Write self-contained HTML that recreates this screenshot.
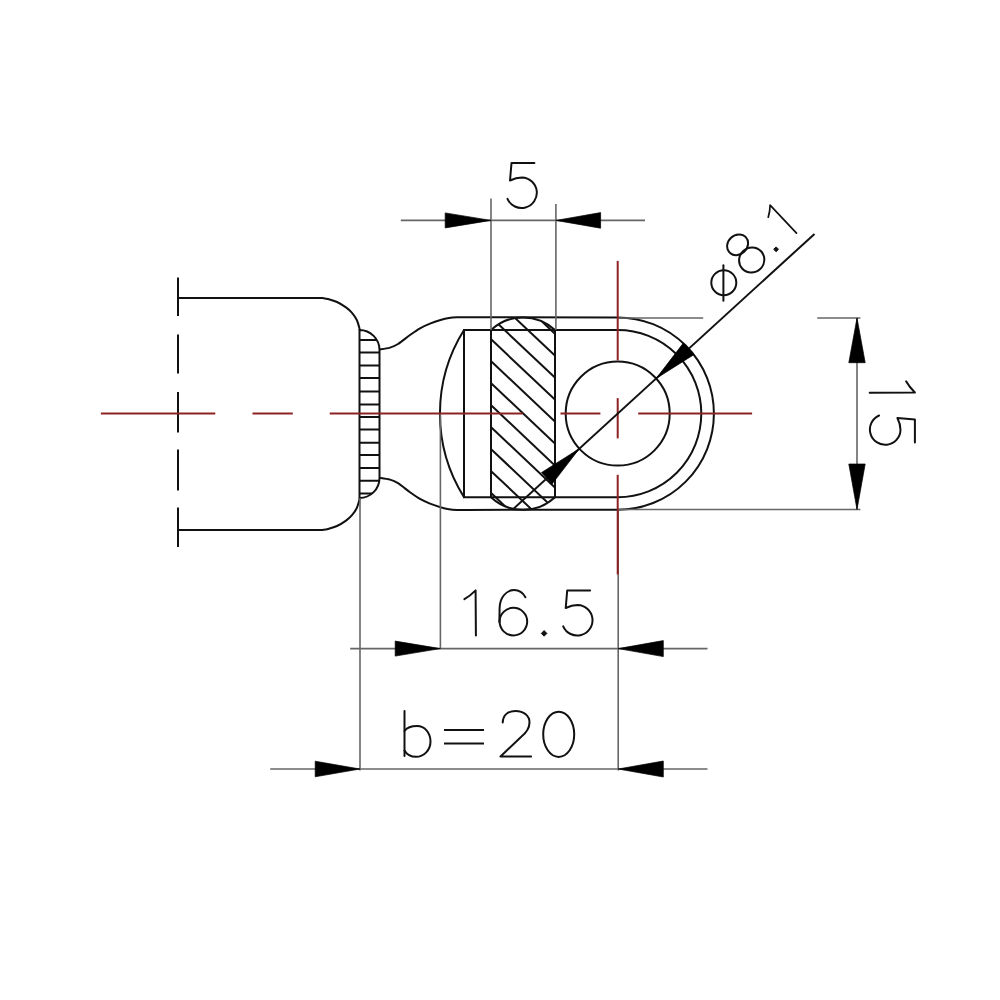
<!DOCTYPE html>
<html><head><meta charset="utf-8"><style>
html,body{margin:0;padding:0;background:#fff;width:1000px;height:1000px;overflow:hidden;font-family:"Liberation Sans",sans-serif;}
svg{display:block;}
</style></head><body><svg width="1000" height="1000" viewBox="0 0 1000 1000"><line x1="178" y1="277.5" x2="178" y2="316" stroke="#111" stroke-width="2"/><line x1="178" y1="334.5" x2="178" y2="373.5" stroke="#111" stroke-width="2"/><line x1="178" y1="392" x2="178" y2="432.6" stroke="#111" stroke-width="2"/><line x1="178" y1="449.5" x2="178" y2="490.5" stroke="#111" stroke-width="2"/><line x1="178" y1="507.4" x2="178" y2="547" stroke="#111" stroke-width="2"/><path d="M178,298 L322.6,298 C323.5,298.17 325.6,298.33 328,299 C330.4,299.67 334,300.6 337,302 C340,303.4 343.5,305.6 346,307.4 C348.5,309.2 350.2,310.7 352,312.8 C353.8,314.9 355.55,317.4 356.8,320 C358.05,322.6 359.05,326.73 359.5,328.4 C359.95,330.07 359.5,329.73 359.5,330" fill="none" stroke="#111" stroke-width="2"/><path d="M178,530 L322.6,530 C323.5,529.83 325.6,529.67 328,529 C330.4,528.33 334,527.4 337,526 C340,524.6 343.5,522.4 346,520.6 C348.5,518.8 350.2,517.3 352,515.2 C353.8,513.1 355.55,510.6 356.8,508 C358.05,505.4 359.05,501.27 359.5,499.6 C359.95,497.93 359.5,498.27 359.5,498" fill="none" stroke="#111" stroke-width="2"/><path d="M359.5,330 A20,20 0 0 1 379.5,350 L379.5,478 A20,20 0 0 1 359.5,498 Z" fill="none" stroke="#111" stroke-width="2"/><clipPath id="kn"><path d="M359.5,330 A20,20 0 0 1 379.5,350 L379.5,478 A20,20 0 0 1 359.5,498 Z"/></clipPath><g clip-path="url(#kn)"><line x1="358" y1="340" x2="381" y2="340" stroke="#111" stroke-width="2"/><line x1="358" y1="352.5" x2="381" y2="352.5" stroke="#111" stroke-width="2"/><line x1="358" y1="365.5" x2="381" y2="365.5" stroke="#111" stroke-width="2"/><line x1="358" y1="378" x2="381" y2="378" stroke="#111" stroke-width="2"/><line x1="358" y1="391.6" x2="381" y2="391.6" stroke="#111" stroke-width="2"/><line x1="358" y1="404.5" x2="381" y2="404.5" stroke="#111" stroke-width="2"/><line x1="358" y1="417.1" x2="381" y2="417.1" stroke="#111" stroke-width="2"/><line x1="358" y1="429.4" x2="381" y2="429.4" stroke="#111" stroke-width="2"/><line x1="358" y1="442.7" x2="381" y2="442.7" stroke="#111" stroke-width="2"/><line x1="358" y1="455" x2="381" y2="455" stroke="#111" stroke-width="2"/><line x1="358" y1="468" x2="381" y2="468" stroke="#111" stroke-width="2"/><line x1="358" y1="480.8" x2="381" y2="480.8" stroke="#111" stroke-width="2"/><line x1="358" y1="493.5" x2="381" y2="493.5" stroke="#111" stroke-width="2"/></g><path d="M379.5,349.5 C382.83,349.02 386.92,348.52 390,347.6 C393.08,346.68 394.67,346.1 398,344 C401.33,341.9 406.33,337.62 410,335 C413.67,332.38 416.67,330.2 420,328.3 C423.33,326.4 426.58,324.98 430,323.6 C433.42,322.22 437.33,320.93 440.5,320 C443.67,319.07 446.25,318.45 449,318 C451.75,317.55 454.17,317.42 457,317.3 C459.83,317.18 462.83,317.3 466,317.3 L617.7,317.4" fill="none" stroke="#111" stroke-width="2"/><path d="M379.5,477.7 C382.83,478.18 386.92,478.68 390,479.6 C393.08,480.52 394.67,481.1 398,483.2 C401.33,485.3 406.33,489.58 410,492.2 C413.67,494.82 416.67,497 420,498.9 C423.33,500.8 426.58,502.22 430,503.6 C433.42,504.98 437.33,506.27 440.5,507.2 C443.67,508.13 446.25,508.75 449,509.2 C451.75,509.65 454.17,509.78 457,509.9 C459.83,510.02 462.83,509.9 466,509.9 L617.7,509.8" fill="none" stroke="#111" stroke-width="2"/><path d="M617.7,317.4 A96.2,96.2 0 0 1 617.7,509.8" fill="none" stroke="#111" stroke-width="2"/><path d="M464,330 L617.7,330 A83.6,83.6 0 0 1 617.7,497.2 L464,497.2 Z" fill="none" stroke="#111" stroke-width="2"/><path d="M464,330 A157.3,157.3 0 0 0 464,497.2" fill="none" stroke="#111" stroke-width="2"/><circle cx="617.7" cy="413.6" r="52" fill="none" stroke="#111" stroke-width="2"/><clipPath id="pn"><path d="M491,330 A46.9,46.9 0 0 1 555,330 L555,497.2 A46.9,46.9 0 0 1 491,497.2 Z"/></clipPath><g clip-path="url(#pn)"><line x1="480" y1="153.04" x2="570" y2="238.09" stroke="#111" stroke-width="2"/><line x1="480" y1="175.01" x2="570" y2="260.06" stroke="#111" stroke-width="2"/><line x1="480" y1="196.98" x2="570" y2="282.03" stroke="#111" stroke-width="2"/><line x1="480" y1="218.95" x2="570" y2="304" stroke="#111" stroke-width="2"/><line x1="480" y1="240.92" x2="570" y2="325.98" stroke="#111" stroke-width="2"/><line x1="480" y1="262.89" x2="570" y2="347.94" stroke="#111" stroke-width="2"/><line x1="480" y1="284.87" x2="570" y2="369.91" stroke="#111" stroke-width="2"/><line x1="480" y1="306.84" x2="570" y2="391.88" stroke="#111" stroke-width="2"/><line x1="480" y1="328.81" x2="570" y2="413.86" stroke="#111" stroke-width="2"/><line x1="480" y1="350.77" x2="570" y2="435.82" stroke="#111" stroke-width="2"/><line x1="480" y1="372.75" x2="570" y2="457.79" stroke="#111" stroke-width="2"/><line x1="480" y1="394.72" x2="570" y2="479.76" stroke="#111" stroke-width="2"/><line x1="480" y1="416.69" x2="570" y2="501.74" stroke="#111" stroke-width="2"/><line x1="480" y1="438.65" x2="570" y2="523.7" stroke="#111" stroke-width="2"/><line x1="480" y1="460.62" x2="570" y2="545.67" stroke="#111" stroke-width="2"/><line x1="480" y1="482.6" x2="570" y2="567.64" stroke="#111" stroke-width="2"/><line x1="480" y1="504.57" x2="570" y2="589.62" stroke="#111" stroke-width="2"/><line x1="480" y1="526.53" x2="570" y2="611.58" stroke="#111" stroke-width="2"/><line x1="480" y1="548.5" x2="570" y2="633.55" stroke="#111" stroke-width="2"/><line x1="480" y1="570.48" x2="570" y2="655.52" stroke="#111" stroke-width="2"/></g><path d="M491,330 A46.9,46.9 0 0 1 555,330 L555,497.2 A46.9,46.9 0 0 1 491,497.2 Z" fill="none" stroke="#111" stroke-width="2"/><line x1="400.8" y1="220.4" x2="645" y2="220.4" stroke="#666" stroke-width="1.6"/><line x1="491" y1="198.4" x2="491" y2="330" stroke="#666" stroke-width="1.6"/><line x1="555.9" y1="204" x2="555.9" y2="330" stroke="#666" stroke-width="1.6"/><path d="M491,220.4 L445.2,212.9 L445.2,227.9 Z" fill="#000" stroke="#000" stroke-width="0.7" stroke-linejoin="round"/><path d="M555.9,220.4 L600.6,228.2 L600.6,212.6 Z" fill="#000" stroke="#000" stroke-width="0.7" stroke-linejoin="round"/><line x1="857" y1="317.8" x2="857" y2="509.5" stroke="#666" stroke-width="1.6"/><line x1="617.7" y1="318" x2="703.2" y2="318" stroke="#666" stroke-width="1.6"/><line x1="817.2" y1="318" x2="860.4" y2="318" stroke="#666" stroke-width="1.6"/><line x1="617.7" y1="509.5" x2="860.4" y2="509.5" stroke="#666" stroke-width="1.6"/><path d="M857,318 L848.8,362.7 L865.2,362.7 Z" fill="#000" stroke="#000" stroke-width="0.7" stroke-linejoin="round"/><path d="M857,509.5 L865.2,464 L848.8,464 Z" fill="#000" stroke="#000" stroke-width="0.7" stroke-linejoin="round"/><line x1="350.2" y1="648.6" x2="707.5" y2="648.6" stroke="#666" stroke-width="1.6"/><line x1="440.4" y1="413" x2="440.4" y2="648.6" stroke="#666" stroke-width="1.6"/><line x1="618.2" y1="509" x2="618.2" y2="770.5" stroke="#666" stroke-width="1.6"/><path d="M440.4,648.6 L395.2,641.1 L395.2,656.1 Z" fill="#000" stroke="#000" stroke-width="0.7" stroke-linejoin="round"/><path d="M618.2,648.6 L663.3,656.6 L663.3,640.6 Z" fill="#000" stroke="#000" stroke-width="0.7" stroke-linejoin="round"/><line x1="270.2" y1="769" x2="707.5" y2="769" stroke="#666" stroke-width="1.6"/><line x1="360" y1="498" x2="360" y2="770.5" stroke="#666" stroke-width="1.6"/><path d="M360,769 L315.2,761.2 L315.2,776.8 Z" fill="#000" stroke="#000" stroke-width="0.7" stroke-linejoin="round"/><path d="M618.2,769 L663.3,777 L663.3,761 Z" fill="#000" stroke="#000" stroke-width="0.7" stroke-linejoin="round"/><line x1="100.9" y1="413.4" x2="215.3" y2="413.4" stroke="#8e2222" stroke-width="2"/><line x1="252.5" y1="413.4" x2="292.8" y2="413.4" stroke="#8e2222" stroke-width="2"/><line x1="329.7" y1="413.4" x2="522.6" y2="413.4" stroke="#8e2222" stroke-width="2"/><line x1="560.5" y1="413.4" x2="600.4" y2="413.4" stroke="#8e2222" stroke-width="2"/><line x1="638.2" y1="413.4" x2="752.1" y2="413.4" stroke="#8e2222" stroke-width="2"/><line x1="617.7" y1="260.9" x2="617.7" y2="360.4" stroke="#8e2222" stroke-width="2"/><line x1="617.7" y1="398.1" x2="617.7" y2="438.4" stroke="#8e2222" stroke-width="2"/><line x1="617.7" y1="474.8" x2="617.7" y2="574.4" stroke="#8e2222" stroke-width="2"/><line x1="814.5" y1="233.9" x2="512.47" y2="509.69" stroke="#111" stroke-width="2"/><path d="M656.1,378.54 L693.85,354.63 L683.33,343.11 Z" fill="#000" stroke="#000" stroke-width="0.7" stroke-linejoin="round"/><path d="M579.3,448.66 L541.55,472.57 L552.07,484.09 Z" fill="#000" stroke="#000" stroke-width="0.7" stroke-linejoin="round"/><path transform="translate(511.5,163) rotate(0) scale(1)" d="M22.9,0 L0,0 L-1.5,17.5 C3,15.2 6.5,14.4 10.5,14.4 A15.3,15.3 0 1 1 -4,35.8" fill="none" stroke="#111" stroke-width="2" stroke-linecap="round" stroke-linejoin="round"/><path transform="translate(914.9,392.5) rotate(90) scale(1)" d="M-11.2,8.8 Q-5.5,5.6 0,0 L0.3,45.2" fill="none" stroke="#111" stroke-width="2" stroke-linecap="round" stroke-linejoin="round"/><path transform="translate(914.9,419.5) rotate(90) scale(1)" d="M22.9,0 L0,0 L-1.5,17.5 C3,15.2 6.5,14.4 10.5,14.4 A15.3,15.3 0 1 1 -4,35.8" fill="none" stroke="#111" stroke-width="2" stroke-linecap="round" stroke-linejoin="round"/><path transform="translate(475.6,590.4) rotate(0) scale(1)" d="M-11.2,8.8 Q-5.5,5.6 0,0 L0.3,45.2" fill="none" stroke="#111" stroke-width="2" stroke-linecap="round" stroke-linejoin="round"/><path d="M525.4,597.2 C522,591 518,590 514.2,590 C506,590 499.8,598 499.6,608 L499.4,622" fill="none" stroke="#111" stroke-width="2" stroke-linecap="round" stroke-linejoin="round"/><circle cx="513.4" cy="621.6" r="13.8" fill="none" stroke="#111" stroke-width="2" stroke-linecap="round" stroke-linejoin="round"/><path d="M544.1,630.6 L546.9,633.4 L544.1,636.2 L541.3,633.4 Z" fill="#111" stroke="#111" stroke-width="1"/><path transform="translate(567.2,590.5) rotate(0) scale(1)" d="M22.9,0 L0,0 L-1.5,17.5 C3,15.2 6.5,14.4 10.5,14.4 A15.3,15.3 0 1 1 -4,35.8" fill="none" stroke="#111" stroke-width="2" stroke-linecap="round" stroke-linejoin="round"/><path d="M404.5,711 L404.5,756" fill="none" stroke="#111" stroke-width="2" stroke-linecap="round" stroke-linejoin="round"/><path d="M404.5,731 C407,727.5 411.5,726 417,726 C425,726 430.5,733 430.5,741.5 C430.5,750 424,756.8 416,756.8 C410.5,756.8 406.5,754 404.5,750.5" fill="none" stroke="#111" stroke-width="2" stroke-linecap="round" stroke-linejoin="round"/><line x1="444" y1="730" x2="484" y2="730" stroke="#111" stroke-width="2"/><line x1="444" y1="743.5" x2="484" y2="743.5" stroke="#111" stroke-width="2"/><path d="M502.7,722.5 C503,715 508,711 515.5,711 C524,711 529.5,716 529.5,722.5 C529.5,728 526,733 521,737 L500.5,756.5 L531.1,756.5" fill="none" stroke="#111" stroke-width="2" stroke-linecap="round" stroke-linejoin="round"/><ellipse cx="558.7" cy="734.3" rx="15.5" ry="22.6" fill="none" stroke="#111" stroke-width="2" stroke-linecap="round" stroke-linejoin="round"/><circle cx="723.8" cy="282.7" r="12.5" fill="none" stroke="#111" stroke-width="2" stroke-linecap="round" stroke-linejoin="round"/><path d="M723.4,265.2 L723.4,300.7" fill="none" stroke="#111" stroke-width="2" stroke-linecap="round" stroke-linejoin="round"/><ellipse transform="translate(737.6,244.8) rotate(-43)" rx="11.2" ry="9.6" fill="none" stroke="#111" stroke-width="2" stroke-linecap="round" stroke-linejoin="round"/><ellipse transform="translate(751.7,260) rotate(-43)" rx="12.8" ry="12.4" fill="none" stroke="#111" stroke-width="2" stroke-linecap="round" stroke-linejoin="round"/><path d="M776.1,246.9 L778.5,249.3 L776.1,251.7 L773.7,249.3 Z" fill="#111" stroke="#111" stroke-width="1"/><path transform="translate(770.1,205.2) rotate(-43) scale(0.85)" d="M-11.2,8.8 Q-5.5,5.6 0,0 L0.3,45.2" fill="none" stroke="#111" stroke-width="2" stroke-linecap="round" stroke-linejoin="round"/></svg></body></html>
